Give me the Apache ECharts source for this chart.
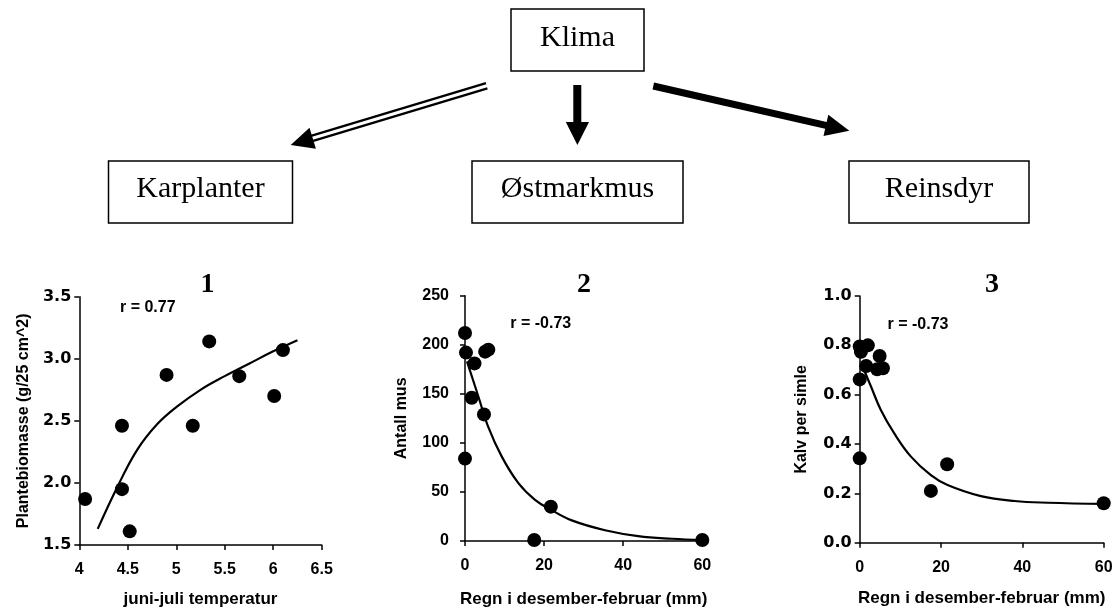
<!DOCTYPE html>
<html>
<head>
<meta charset="utf-8">
<script src="https://cdn.jsdelivr.net/npm/echarts@6/dist/echarts.min.js"></script>
<style>
html,body{margin:0;padding:0;background:#fff;}
#chart{width:1117px;height:611px;}
</style>
</head>
<body>
<div id="chart"></div>
<script>
// ---- Data ----
// Panel 1: plant biomass vs June-July temperature
const bioX = [4.06, 4.44, 4.44, 4.52, 4.90, 5.17, 5.34, 5.65, 6.01, 6.10];
const bioY = [1.87, 2.46, 1.95, 1.61, 2.87, 2.46, 3.14, 2.86, 2.70, 3.07];
const bioFitX = [4.19, 4.40, 4.60, 4.80, 5.00, 5.25, 5.50, 5.75, 6.00, 6.25];
const bioFitY = [1.63, 1.98, 2.27, 2.47, 2.61, 2.75, 2.86, 2.96, 3.06, 3.15];

// Panel 2: number of voles vs winter rain
const musX = [0, 0.25, 2.4, 1.7, 4.8, 0, 5.1, 5.9, 17.5, 21.7, 60];
const musY = [212, 192, 181, 146, 129, 84, 193, 195, 1, 35, 1];
const musFitX = [0.5, 3.4, 5.9, 9.3, 13.5, 17.7, 21.7, 27, 35.4, 43.8, 52.3, 60];
const musFitY = [183, 147, 116, 86, 59, 42, 32, 21, 11, 5, 2.3, 1];

// Panel 3: calves per female vs winter rain
const reinX = [0, 0.3, 2.0, 1.6, 4.9, 4.3, 5.7, 0, 0, 17.5, 21.5, 60];
const reinY = [0.795, 0.774, 0.80, 0.716, 0.757, 0.703, 0.707, 0.662, 0.342, 0.21, 0.318, 0.16];
const reinFitX = [0.8, 2.8, 5.2, 8.5, 12.6, 17.5, 21.6, 29.8, 38.1, 46.3, 60];
const reinFitY = [0.711, 0.632, 0.538, 0.443, 0.349, 0.274, 0.234, 0.189, 0.169, 0.162, 0.157];

const panelTitles = ['1', '2', '3'];
const rLabels = ['r = 0.77', 'r = -0.73', 'r = -0.73'];
const xNames = ['juni-juli temperatur', 'Regn i desember-februar (mm)', 'Regn i desember-februar (mm)'];
const yNames = ['Plantebiomasse (g/25 cm^2)', 'Antall mus', 'Kalv per simle'];
const boxLabels = ['Klima', 'Karplanter', 'Østmarkmus', 'Reinsdyr'];

// ---- Build ----
const zip = (a, b) => a.map((v, i) => [v, b[i]]);
const SANS = '"Liberation Sans", Arial, sans-serif';
const WIDE = '"DejaVu Sans", "Liberation Sans", Arial, sans-serif';
const SERIF = '"Liberation Serif", "Times New Roman", serif';

const grids = [
  {left: 79.3, top: 296.7, width: 242.4, height: 248.3},
  {left: 465, top: 295.7, width: 237.3, height: 245.3},
  {left: 859.7, top: 296, width: 244, height: 246.7}
];

const axisCommon = {
  type: 'value',
  axisLine: {show: true, onZero: false, lineStyle: {color: '#000', width: 1.5}},
  axisTick: {show: true, inside: false, length: 5, lineStyle: {color: '#000', width: 1.5}},
  splitLine: {show: false},
  axisLabel: {color: '#000', fontFamily: SANS, fontWeight: 'bold', fontSize: 16},
  nameLocation: 'middle',
  nameTextStyle: {color: '#000', fontFamily: SANS, fontWeight: 'bold', fontSize: 16, verticalAlign: 'middle'}
};

function xAx(i, min, max, interval, gap) {
  return Object.assign({}, axisCommon, {
    gridIndex: i, min, max, interval, name: xNames[i], nameGap: gap,
    axisLabel: Object.assign({}, axisCommon.axisLabel, {margin: 17}),
    nameTextStyle: Object.assign({}, axisCommon.nameTextStyle, {fontSize: 17})
  });
}
function yAx(i, min, max, interval, gap, dec, margin, family) {
  return Object.assign({}, axisCommon, {
    gridIndex: i, min, max, interval, name: yNames[i], nameGap: gap,
    axisLabel: Object.assign({}, axisCommon.axisLabel, {margin: margin, fontFamily: family,
      formatter: v => dec ? v.toFixed(1) : String(v)})
  });
}

function scatter(i, xs, ys) {
  return {type: 'scatter', xAxisIndex: i, yAxisIndex: i, data: zip(xs, ys),
    symbol: 'circle', symbolSize: 14, itemStyle: {color: '#000', opacity: 1}, clip: false, silent: true, z: 3};
}
function fit(i, xs, ys) {
  return {type: 'line', xAxisIndex: i, yAxisIndex: i, data: zip(xs, ys),
    smooth: 0.4, showSymbol: false, symbol: 'none',
    lineStyle: {color: '#000', width: 2.2, opacity: 1}, clip: false, silent: true, z: 2};
}

// Diagram graphics
const boxes = [
  {x: 511, y: 9, w: 133, h: 62, tx: 577.5, ty: 38.5},
  {x: 108.5, y: 161, w: 184, h: 62, tx: 200.5, ty: 189},
  {x: 472, y: 161, w: 211, h: 62, tx: 577.5, ty: 189},
  {x: 849, y: 161, w: 180, h: 62, tx: 939, ty: 189}
];
const graphic = [];
boxes.forEach((b, i) => {
  graphic.push({type: 'rect', shape: {x: b.x, y: b.y, width: b.w, height: b.h},
    style: {fill: '#fff', stroke: '#000', lineWidth: 1.5}});
  graphic.push({type: 'text', x: b.tx, y: b.ty,
    style: {text: boxLabels[i], font: '30px ' + SERIF, fill: '#000', textAlign: 'center', textVerticalAlign: 'middle'}});
});
// double-line arrow to Karplanter
graphic.push({type: 'line', shape: {x1: 487.4, y1: 88.4, x2: 312.4, y2: 141.1}, style: {stroke: '#000', lineWidth: 2.3}});
graphic.push({type: 'line', shape: {x1: 486.0, y1: 83.2, x2: 311.0, y2: 135.9}, style: {stroke: '#000', lineWidth: 2.3}});
graphic.push({type: 'polygon', shape: {points: [[290.7, 145], [315.9, 148.8], [309.5, 127.8]]}, style: {fill: '#000'}});
// straight arrow to Østmarkmus
graphic.push({type: 'rect', shape: {x: 573.3, y: 85, width: 8, height: 38}, style: {fill: '#000'}});
graphic.push({type: 'polygon', shape: {points: [[565.8, 122], [589, 122], [577.4, 145]]}, style: {fill: '#000'}});
// thick arrow to Reinsdyr
graphic.push({type: 'line', shape: {x1: 653.3, y1: 86, x2: 827, y2: 125.6}, style: {stroke: '#000', lineWidth: 7}});
graphic.push({type: 'polygon', shape: {points: [[849.3, 130.7], [823.5, 136.1], [828.3, 114.7]]}, style: {fill: '#000'}});

// panel titles and r labels
const titlePos = [[207.5, 284.5], [584, 284.5], [992, 284.5]];
const rPos = [[147.8, 307.5], [540.8, 323.8], [918, 324.7]];
panelTitles.forEach((t, i) => {
  graphic.push({type: 'text', x: titlePos[i][0], y: titlePos[i][1],
    style: {text: t, font: 'bold 28px ' + SERIF, fill: '#000', textAlign: 'center', textVerticalAlign: 'middle'}});
  graphic.push({type: 'text', x: rPos[i][0], y: rPos[i][1],
    style: {text: rLabels[i], font: 'bold 16px ' + SANS, fill: '#000', textAlign: 'center', textVerticalAlign: 'middle'}});
});

const option = {
  backgroundColor: '#fff',
  animation: false,
  grid: grids,
  xAxis: [xAx(0, 4, 6.5, 0.5, 54), xAx(1, 0, 60, 20, 58), xAx(2, 0, 60, 20, 56)],
  yAxis: [
    yAx(0, 1.5, 3.5, 0.5, 56, true, 8, WIDE),
    yAx(1, 0, 250, 50, 63, false, 16, SANS),
    yAx(2, 0, 1, 0.2, 58, true, 8, WIDE)
  ],
  series: [
    fit(0, bioFitX, bioFitY), scatter(0, bioX, bioY),
    fit(1, musFitX, musFitY), scatter(1, musX, musY),
    fit(2, reinFitX, reinFitY), scatter(2, reinX, reinY)
  ],
  graphic: graphic
};

const chart = echarts.init(document.getElementById('chart'), null, {renderer: 'canvas'});
chart.setOption(option);
</script>
</body>
</html>
